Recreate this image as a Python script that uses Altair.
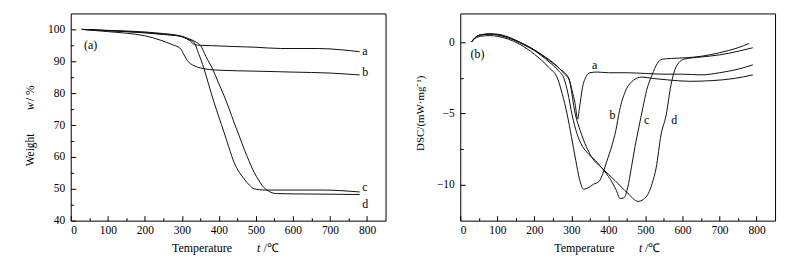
import altair as alt
import pandas as pd

# ---------------- (a) TGA curves: temperature (°C) / weight (%) ----------------
tga_a_t = [30, 100, 200, 250, 280, 300, 320, 335, 350, 380, 420, 500, 567, 670, 730, 780]
tga_a_w = [100, 99.7, 99.2, 98.7, 98.3, 97.8, 96.6, 95.2, 95.0, 94.9, 94.7, 94.4, 94.0, 94.0, 93.6, 93.0]

tga_b_t = [30, 100, 150, 200, 243, 270, 297, 306, 315, 325, 333, 350, 400, 500, 600, 700, 780]
tga_b_w = [100, 99.3, 98.8, 98.0, 96.6, 95.4, 93.9, 92.0, 90.2, 89.1, 88.6, 87.9, 87.2, 86.9, 86.6, 86.3, 85.7]

tga_c_t = [30, 100, 200, 250, 297, 315, 325, 333, 345, 360, 373, 387, 400, 414, 427, 441, 455, 468, 482, 495, 510, 522, 600, 680, 780]
tga_c_w = [100, 99.6, 98.9, 98.4, 97.8, 97.0, 96.5, 95.9, 92.5, 87.6, 82.5, 77.1, 72.5, 67.7, 63.0, 58.3, 55.2, 53.1, 51.2, 50.0, 49.7, 49.6, 49.6, 49.6, 49.0]

tga_d_t = [30, 100, 200, 250, 297, 320, 340, 351, 365, 383, 398, 414, 428, 441, 455, 468, 482, 495, 507, 517, 530, 540, 555, 600, 700, 780]
tga_d_w = [100, 99.6, 99.0, 98.5, 97.9, 97.0, 95.9, 94.9, 91.5, 87.6, 83.5, 79.2, 75.0, 70.8, 66.6, 62.5, 58.6, 55.2, 52.8, 51.0, 49.6, 48.9, 48.5, 48.4, 48.3, 48.2]

# ---------------- (b) DSC curves: temperature (°C) / DSC (mW/mg) ----------------
dsc_a_t = [30, 40, 55, 80, 100, 130, 160, 200, 230, 260, 280, 295, 302, 310, 317, 322, 330, 340, 350, 370, 400, 450, 500, 550, 600, 650, 700, 750, 790]
dsc_a_y = [0, 0.3, 0.5, 0.58, 0.55, 0.35, 0.0, -0.55, -1.05, -1.65, -2.2, -2.7, -3.4, -4.3, -5.4, -4.6, -3.2, -2.4, -2.15, -2.1, -2.15, -2.15, -2.2, -2.25, -2.25, -2.3, -2.15, -1.9, -1.6]

dsc_b_t = [30, 40, 55, 80, 100, 130, 160, 200, 240, 262, 275, 289, 300, 312, 322, 333, 345, 360, 375, 385, 395, 410, 420, 430, 445, 462, 490, 520, 560, 620, 680, 740, 790]
dsc_b_y = [0, 0.25, 0.4, 0.45, 0.4, 0.2, -0.15, -0.85, -1.8, -2.5, -3.6, -5.1, -6.6, -8.3, -9.6, -10.3, -10.2, -9.95, -9.75, -9.2, -8.4, -7.2, -6.2, -4.8, -3.5, -2.8, -2.45, -2.55, -2.65, -2.75, -2.7, -2.55, -2.3]

dsc_c_t = [30, 40, 55, 80, 100, 130, 160, 200, 240, 265, 280, 290, 302, 315, 330, 347, 365, 385, 405, 420, 432, 442, 452, 462, 472, 482, 493, 503, 518, 532, 545, 570, 610, 650, 700, 750, 780]
dsc_c_y = [0, 0.3, 0.5, 0.55, 0.5, 0.3, -0.05, -0.6, -1.4, -2.0, -2.55, -3.5, -5.1, -6.4, -7.3, -7.85, -8.3, -8.9, -9.6, -10.3, -10.95, -10.9, -10.2, -8.8, -7.3, -6.0, -4.6, -3.4, -2.3, -1.5, -1.2, -1.15, -1.1, -1.0, -0.75, -0.4, -0.1]

dsc_d_t = [30, 40, 55, 80, 100, 130, 160, 200, 240, 270, 293, 311, 324, 340, 356, 382, 418, 453, 480, 495, 508, 518, 529, 542, 556, 569, 580, 590, 604, 650, 700, 750, 790]
dsc_d_y = [0, 0.3, 0.5, 0.55, 0.5, 0.3, 0.0, -0.55, -1.3, -1.9, -2.55, -5.1, -6.2, -7.3, -8.1, -8.8, -9.7, -10.6, -11.15, -11.0, -10.6, -9.9, -8.8, -6.5, -5.1, -3.0, -1.9, -1.45, -1.2, -1.05, -0.9, -0.65, -0.4]

series_names = ["a", "b", "c", "d"]

# curve labels
tga_lab_t = [787, 787, 787, 787]
tga_lab_v = [93.3, 86.5, 50.7, 45.3]
dsc_lab_t = [363, 411, 503, 578]
dsc_lab_v = [-1.61, -5.08, -5.43, -5.43]

# axis tick values
x_major = [0, 100, 200, 300, 400, 500, 600, 700, 800]
x_minor = [50, 150, 250, 350, 450, 550, 650, 750]
tga_y_major = [40, 50, 60, 70, 80, 90, 100]
tga_y_minor = [45, 55, 65, 75, 85, 95]
dsc_y_major = [0, -5, -10]
dsc_y_minor = [-2.5, -7.5]

FONT = "Liberation Serif"
W, H = 316, 208


def long_df(ts_list, vs_list):
    rows = []
    for name, ts, vs in zip(series_names, ts_list, vs_list):
        for t, v in zip(ts, vs):
            rows.append({"s": name, "t": t, "v": v})
    return pd.DataFrame(rows)


def label_axis(orient, values, pad):
    return alt.Axis(orient=orient, values=values, ticks=False, tickSize=0, domain=False,
                    grid=False, title="", labelPadding=pad, labelFont=FONT,
                    labelFontSize=11.5, labelColor="black")


def tick_axis(orient, values, size):
    return alt.Axis(orient=orient, values=values, ticks=True, tickSize=size, tickColor="black",
                    tickWidth=1, offset=-size, labels=False, domain=False, grid=False, title="")


def txt(text, x, y, angle=0, align="center", italic=False, size=11.5, baseline="alphabetic"):
    kw = dict(text=text, font=FONT, fontSize=size, color="black", align=align, baseline=baseline)
    if angle:
        kw["angle"] = angle
    if italic:
        kw["fontStyle"] = "italic"
    return alt.Chart(alt.Data(values=[{}])).mark_text(**kw).encode(x=alt.value(x), y=alt.value(y))


def panel(df, ydom, ymaj, ymin, lab_df, lab_align, panel_text, panel_pos, extra, bound_x):
    xs = alt.Scale(domain=[0, 850], nice=False, zero=False)
    ys = alt.Scale(domain=ydom, nice=False, zero=False)
    base = alt.Chart(df)
    lines = base.mark_line(color="#111111", strokeWidth=1, interpolate="monotone").encode(
        x=alt.X("t:Q", scale=xs, axis=label_axis("bottom", x_major, 4)),
        y=alt.Y("v:Q", scale=ys, axis=label_axis("left", ymaj, 6)),
        detail="s:N",
    )
    maj = base.mark_line(opacity=0).encode(
        x=alt.X("t:Q", scale=xs, axis=tick_axis("bottom", x_major, 5)),
        y=alt.Y("v:Q", scale=ys, axis=tick_axis("left", ymaj, 5)),
        detail="s:N",
    )
    mnr = base.mark_line(opacity=0).encode(
        x=alt.X("t:Q", scale=xs, axis=tick_axis("bottom", x_minor, 3)),
        y=alt.Y("v:Q", scale=ys, axis=tick_axis("left", ymin, 3)),
        detail="s:N",
    )
    labs = alt.Chart(lab_df).mark_text(font=FONT, fontSize=12, align=lab_align,
                                       baseline="middle", color="black").encode(
        x=alt.X("t:Q", scale=xs, axis=None),
        y=alt.Y("v:Q", scale=ys, axis=None),
        text="s:N",
    )
    ptxt = alt.Chart(pd.DataFrame({"t": [panel_pos[0]], "v": [panel_pos[1]], "s": [panel_text]})).mark_text(
        font=FONT, fontSize=12, align="left", baseline="middle", color="black").encode(
        x=alt.X("t:Q", scale=xs, axis=None),
        y=alt.Y("v:Q", scale=ys, axis=None),
        text="s:N",
    )
    bound = alt.Chart(alt.Data(values=[{}])).mark_rect(opacity=0).encode(
        x=alt.value(bound_x[0]), x2=alt.value(bound_x[1]), y=alt.value(-12.3), y2=alt.value(246.7))
    return alt.layer(lines, maj, mnr, labs, ptxt, bound, *extra).resolve_axis(
        x="independent", y="independent").properties(width=W, height=H)


tga_df = long_df([tga_a_t, tga_b_t, tga_c_t, tga_d_t], [tga_a_w, tga_b_w, tga_c_w, tga_d_w])
dsc_df = long_df([dsc_a_t, dsc_b_t, dsc_c_t, dsc_d_t], [dsc_a_y, dsc_b_y, dsc_c_y, dsc_d_y])
tga_lab = pd.DataFrame({"s": series_names, "t": tga_lab_t, "v": tga_lab_v})
dsc_lab = pd.DataFrame({"s": series_names, "t": dsc_lab_t, "v": dsc_lab_v})

left_extra = [
    txt("Temperature", 131.8, 239, size=12),
    txt("t", 187, 239, align="left", italic=True, size=12),
    txt("/\u2103", 193.5, 239, align="left", size=12),
    txt("Weight", -39.7, 137, angle=270, baseline="middle", size=11.5),
    txt("w", -39.7, 93, angle=270, baseline="middle", italic=True, size=11.5),
    txt("/ %", -39.7, 80, angle=270, baseline="middle", size=11.5),
]
right_extra = [
    txt("Temperature", 124.6, 239, size=12),
    txt("t", 179.3, 239, align="left", italic=True, size=12),
    txt("/\u2103", 185.5, 239, align="left", size=12),
    txt("DSC/(mW\u00b7mg\u207b\u00b9)", -39, 100.2, angle=270, baseline="middle", size=11),
]

left = panel(tga_df, [40, 105], tga_y_major, tga_y_minor, tga_lab, "left", "(a)", (36, 95),
             left_extra, (-69.7, 0))
right = panel(dsc_df, [-12.5, 2], dsc_y_major, dsc_y_minor, dsc_lab, "center", "(b)", (28, -0.81),
              right_extra, (W, W + 15.3))

chart = alt.hconcat(left, right, spacing=75, bounds="flush").properties(
    padding=0
).configure_view(stroke="black", strokeWidth=1).configure_axis(grid=False)

chart.save("out.html", embed_options={"renderer": "svg", "actions": False})
